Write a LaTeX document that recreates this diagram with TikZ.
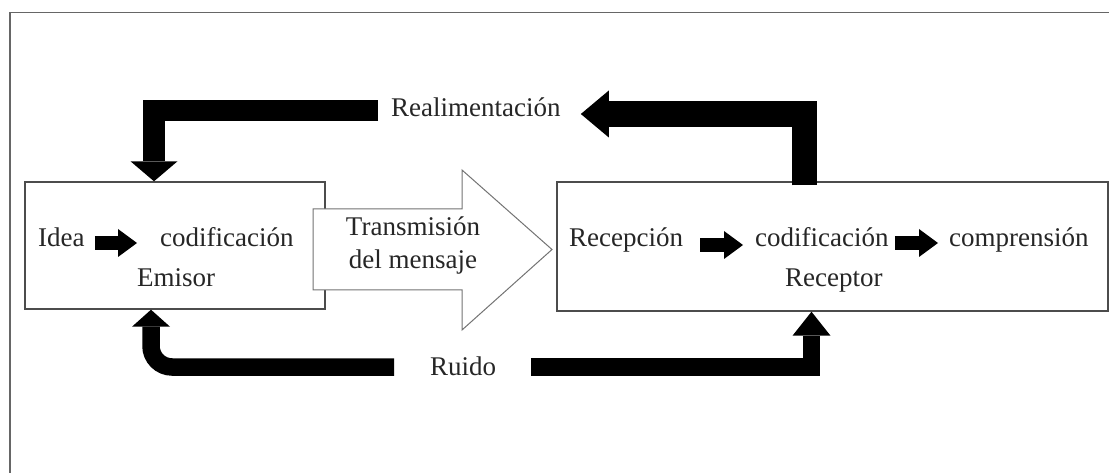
\documentclass[tikz,border=0pt]{standalone}
\usepackage{fontspec}
\setmainfont{Liberation Serif}
\usetikzlibrary{arrows.meta}
\begin{document}
\begin{tikzpicture}[x=1pt,y=-1pt,
  lbl/.style={inner sep=0pt,anchor=base west,text=black!85,font=\fontsize{27}{33}\selectfont},
  boxn/.style={draw=black!70,line width=1.4pt,fill=white,inner sep=0pt},
  smallarrow/.style={line width=14pt,-{Triangle[length=19pt,width=28pt,line width=0pt]}},
  bigA/.style={line width=#1,line join=miter}
]
\useasboundingbox (0,0) rectangle (1109,473);
% frame
\draw[black!60,line width=1.2pt] (10,480) -- (10,12.5) -- (1115,12.5);
% boxes
\node[boxn,minimum width=300pt,minimum height=127pt] (em) at (175,245.5) {};
\node[boxn,minimum width=551pt,minimum height=129pt] (rec) at (832.5,246.5) {};
% transmission arrow
\draw[black!55,line width=1pt,fill=white] (313,209) -- (462,209) -- (462,170) -- (552,249.5) -- (462,330) -- (462,290) -- (313,290) -- cycle;
\node[inner sep=0pt,text=black!85,font=\fontsize{27}{33}\selectfont,align=center] (tx) at (413,245) {Transmisión\\del mensaje};
% texts
\node[lbl] (idea) at (38,247) {Idea};
\node[lbl] (cod1) at (160,247) {codificación};
\node[lbl] (emt) at (137,287) {Emisor};
\node[lbl] (recp) at (569,247) {Recepción};
\node[lbl] (cod2) at (755,247) {codificación};
\node[lbl] (comp) at (949,247) {comprensión};
\node[lbl] (rect) at (785,287) {Receptor};
\node[lbl] (real) at (391,117) {Realimentación};
\node[lbl] (ruido) at (430,375) {Ruido};
% small arrows
\draw[smallarrow] ([shift={(10,-4)}]idea.base east) -- ([shift={(-23,-4)}]cod1.base west);
\draw[smallarrow] ([shift={(17,-2)}]recp.base east) -- ([shift={(-12,-2)}]cod2.base west);
\draw[smallarrow] ([shift={(6,-4)}]cod2.base east) -- ([shift={(-11,-4)}]comp.base west);
% feedback arrows
\draw[bigA=21.5pt,-{Triangle[length=20pt,width=47pt,line width=0pt]}]
  ([shift={(-13,-6.5)}]real.base west) -| ([shift={(-21,0)}]em.north);
\draw[bigA=25.5pt,-{Triangle[length=28pt,width=47pt,line width=0pt]}]
  ([shift={(-28,4)}]rec.north) |- ([shift={(20,-3)}]real.base east);
% noise arrows
\draw[bigA=17.5pt,rounded corners=21pt,-{Triangle[length=17pt,width=38pt,line width=0pt]}]
  ([shift={(-36,-8)}]ruido.base west) -| ([shift={(-24,0)}]em.south);
\draw[bigA=17.5pt,-{Triangle[length=24pt,width=38pt,line width=0pt]}]
  ([shift={(35,-8)}]ruido.base east) -| ([shift={(-21,0)}]rec.south);
\end{tikzpicture}
\end{document}
